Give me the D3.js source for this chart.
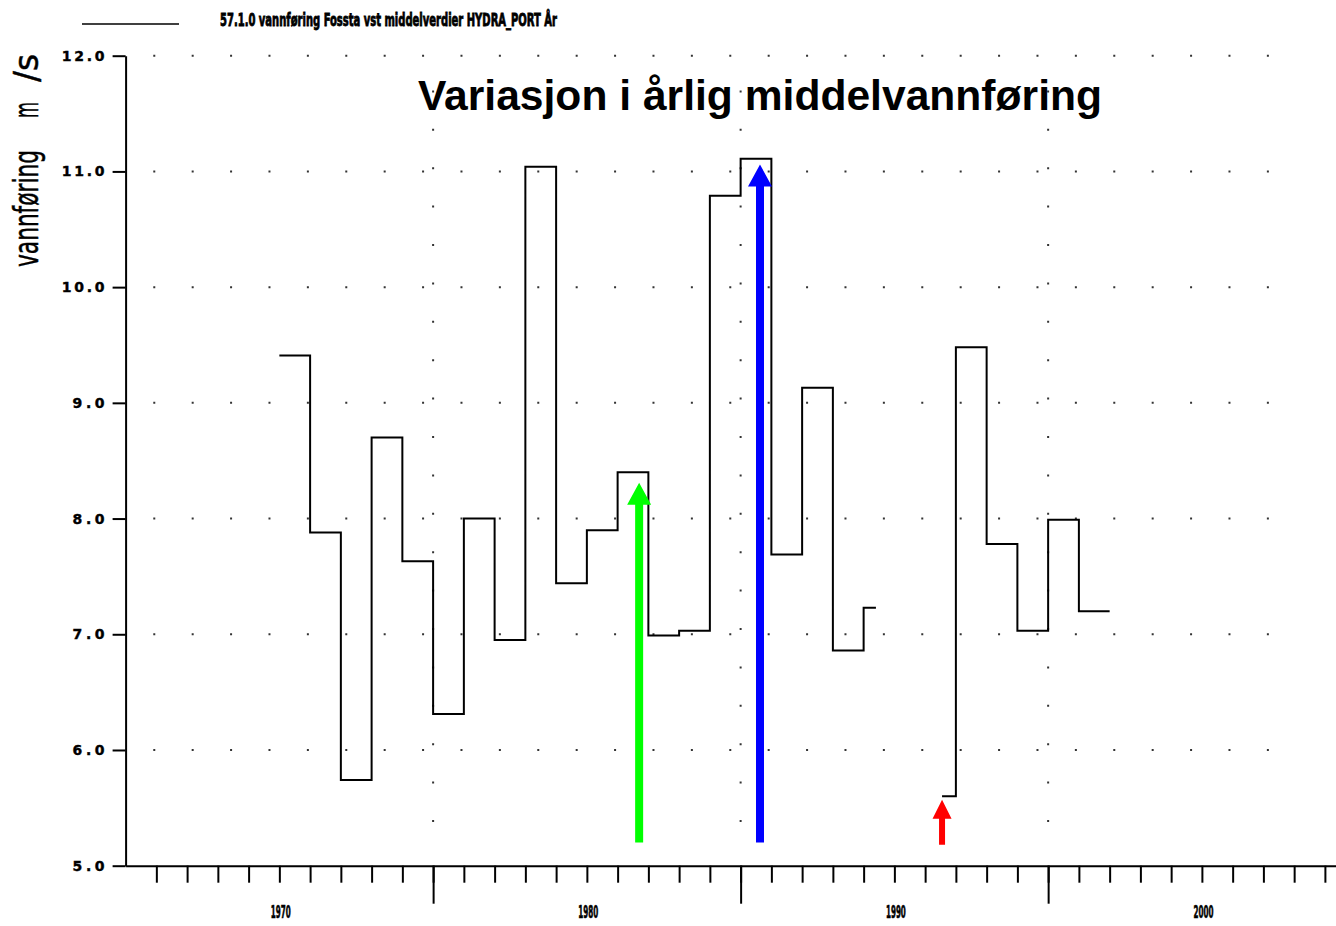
<!DOCTYPE html>
<html>
<head>
<meta charset="utf-8">
<script src="https://cdn.jsdelivr.net/npm/d3@7"></script>
<style>
    body { margin:0; background:white; }
    .tick-label { font-family:"DejaVu Sans"; font-weight:bold; font-size:14px; fill:black; stroke:black; stroke-width:0.4; }
    .year-label { font-family:"DejaVu Sans Condensed"; font-weight:bold; font-size:17px; fill:black; stroke:black; stroke-width:0.6; }
    .title { font-family:"Liberation Sans", Arial, sans-serif; font-weight:bold; font-size:42px; fill:black; }
    .ytitle { font-family:"DejaVu Sans"; font-size:34px; fill:black; stroke:black; stroke-width:0.5; }
    .legend { font-family:"DejaVu Sans Condensed"; font-weight:bold; font-size:17px; fill:black; stroke:black; stroke-width:0.8; }
</style>
</head>
<body>
<svg id="chart"></svg>
<script>
// yearly mean flow, first period (step starts at each year)
var startYears1 = [1970, 1971, 1972, 1973, 1974, 1975, 1976, 1977, 1978, 1979,
                   1980, 1981, 1982, 1983, 1984, 1985, 1986, 1987, 1988, 1989];
var flow1 = [9.41, 7.88, 5.74, 8.70, 7.63, 6.31, 8.00, 6.95, 11.04, 7.44,
             7.90, 8.40, 6.99, 7.03, 10.79, 11.11, 7.69, 9.13, 6.86, 7.23];
var endYear1 = 1989.4;

// second period after the gap
var startYears2 = [1991.55, 1992, 1993, 1994, 1995, 1996];
var flow2 = [5.60, 9.48, 7.78, 7.03, 7.99, 7.20];
var endYear2 = 1997;

// arrows drawn on top of the chart
var arrowYears = [1981.7, 1985.63, 1991.55];
var arrowFrom = [5.2, 5.2, 5.18];
var arrowTo = [8.31, 11.06, 5.57];

var yTicks = [5, 6, 7, 8, 9, 10, 11, 12];
var minorYears = d3.range(1966, 2005);
var majorYears = [1975, 1985, 1995];
var labelYears = [1970, 1980, 1990, 2000];

var titleText = "Variasjon i årlig middelvannføring";
var legendText = "57.1.0 vannføring Fossta vst middelverdier HYDRA_PORT År";

var arrowStyles = [
    {color:"#00ff00", shaft:8, head:24, len:22},
    {color:"#0000ff", shaft:8, head:24, len:22},
    {color:"#ff0000", shaft:6, head:19, len:19}
];

var drawChart = function(width, height)
{
    var svg = d3.select("#chart")
        .attr("width", width)
        .attr("height", height);

    var xScale = d3.scaleLinear()
        .domain([1965, 2004.4])
        .range([125.6, 1337.2]);

    var yScale = d3.scaleLinear()
        .domain([5, 12])
        .range([865.7, 55.7]);

    // dotted grid
    var grid = svg.append("g").classed("grid", true)
        .attr("stroke", "#333")
        .attr("stroke-width", 2)
        .attr("stroke-dasharray", "2,36.4");

    grid.selectAll("line.h")
        .data(yTicks.filter(function(v) { return v > 5; }))
        .enter()
        .append("line")
        .classed("h", true)
        .attr("x1", xScale(1965.9))
        .attr("x2", xScale(2003.3))
        .attr("y1", function(v) { return yScale(v); })
        .attr("y2", function(v) { return yScale(v); });

    grid.selectAll("line.v")
        .data(majorYears)
        .enter()
        .append("line")
        .classed("v", true)
        .attr("x1", function(y) { return xScale(y); })
        .attr("x2", function(y) { return xScale(y); })
        .attr("y1", yScale(11.7))
        .attr("y2", yScale(5.2));

    // axes
    var yAxis = d3.axisLeft(yScale)
        .tickValues(yTicks)
        .tickSize(13)
        .tickSizeOuter(0)
        .tickPadding(8)
        .tickFormat(d3.format(".1f"));

    var yg = svg.append("g")
        .attr("transform", "translate(" + xScale(1965) + ",0)")
        .call(yAxis);
    yg.select(".domain").attr("stroke-width", 2);
    yg.selectAll(".tick line").attr("stroke-width", 2);
    yg.selectAll(".tick text")
        .attr("class", "tick-label")
        .attr("font-family", null)
        .attr("font-size", null)
        .attr("textLength", function(v) { return d3.format(".1f")(v).length * 10.7; })
        .attr("lengthAdjust", "spacing");

    var xMinor = d3.axisBottom(xScale)
        .tickValues(minorYears)
        .tickSize(17)
        .tickSizeOuter(0)
        .tickFormat("");

    var xg = svg.append("g")
        .attr("transform", "translate(0," + yScale(5) + ")")
        .call(xMinor);
    xg.select(".domain").attr("stroke-width", 2);
    xg.selectAll(".tick line").attr("stroke-width", 2);

    var xMajor = d3.axisBottom(xScale)
        .tickValues(majorYears)
        .tickSize(38)
        .tickSizeOuter(0)
        .tickFormat("");

    var xg2 = svg.append("g")
        .attr("transform", "translate(0," + yScale(5) + ")")
        .call(xMajor);
    xg2.select(".domain").remove();
    xg2.selectAll(".tick line").attr("stroke-width", 2);

    svg.append("g")
        .selectAll("text")
        .data(labelYears)
        .enter()
        .append("text")
        .classed("year-label", true)
        .attr("text-anchor", "middle")
        .attr("x", function(y) { return xScale(y) + 1.5; })
        .attr("y", 918)
        .attr("textLength", 20)
        .attr("lengthAdjust", "spacingAndGlyphs")
        .text(function(y) { return y; });

    // step series
    var line = d3.line()
        .x(function(d) { return xScale(d.year); })
        .y(function(d) { return yScale(d.flow); })
        .curve(d3.curveStepAfter);

    var makePoints = function(years, flows, endYear)
    {
        var pts = years.map(function(y, i) { return {year:y, flow:flows[i]}; });
        pts.push({year:endYear, flow:flows[flows.length - 1]});
        return pts;
    }

    svg.append("g")
        .classed("series", true)
        .selectAll("path")
        .data([makePoints(startYears1, flow1, endYear1),
               makePoints(startYears2, flow2, endYear2)])
        .enter()
        .append("path")
        .attr("d", line)
        .attr("fill", "none")
        .attr("stroke", "black")
        .attr("stroke-width", 2);

    // arrows
    svg.append("g")
        .classed("arrows", true)
        .selectAll("path")
        .data(arrowYears)
        .enter()
        .append("path")
        .attr("fill", function(y, i) { return arrowStyles[i].color; })
        .attr("d", function(year, i)
        {
            var st = arrowStyles[i];
            var x = xScale(year);
            var y0 = yScale(arrowFrom[i]);
            var y1 = yScale(arrowTo[i]);
            var hb = y1 + st.len;
            return "M" + (x - st.shaft/2) + "," + y0 +
                   "L" + (x - st.shaft/2) + "," + hb +
                   "L" + (x - st.head/2) + "," + hb +
                   "L" + x + "," + y1 +
                   "L" + (x + st.head/2) + "," + hb +
                   "L" + (x + st.shaft/2) + "," + hb +
                   "L" + (x + st.shaft/2) + "," + y0 + "Z";
        });

    // labels
    svg.append("text")
        .classed("title", true)
        .attr("x", 418)
        .attr("y", 110)
        .attr("textLength", 684)
        .attr("lengthAdjust", "spacingAndGlyphs")
        .text(titleText);

    var ytitle = [
        {t:"vannføring", y:267, len:117},
        {t:"m", y:118, len:16},
        {t:"/s", y:82, len:28}
    ];
    svg.append("g")
        .selectAll("text")
        .data(ytitle)
        .enter()
        .append("text")
        .classed("ytitle", true)
        .attr("transform", function(d) { return "translate(38," + d.y + ") rotate(-90)"; })
        .attr("textLength", function(d) { return d.len; })
        .attr("lengthAdjust", "spacingAndGlyphs")
        .text(function(d) { return d.t; });

    svg.append("line")
        .attr("x1", 82).attr("x2", 179)
        .attr("y1", 24).attr("y2", 24)
        .attr("stroke", "black")
        .attr("stroke-width", 1.5);

    svg.append("text")
        .classed("legend", true)
        .attr("x", 220)
        .attr("y", 26)
        .attr("textLength", 337)
        .attr("lengthAdjust", "spacingAndGlyphs")
        .text(legendText);
}

drawChart(1336, 926);
</script>
</body>
</html>
